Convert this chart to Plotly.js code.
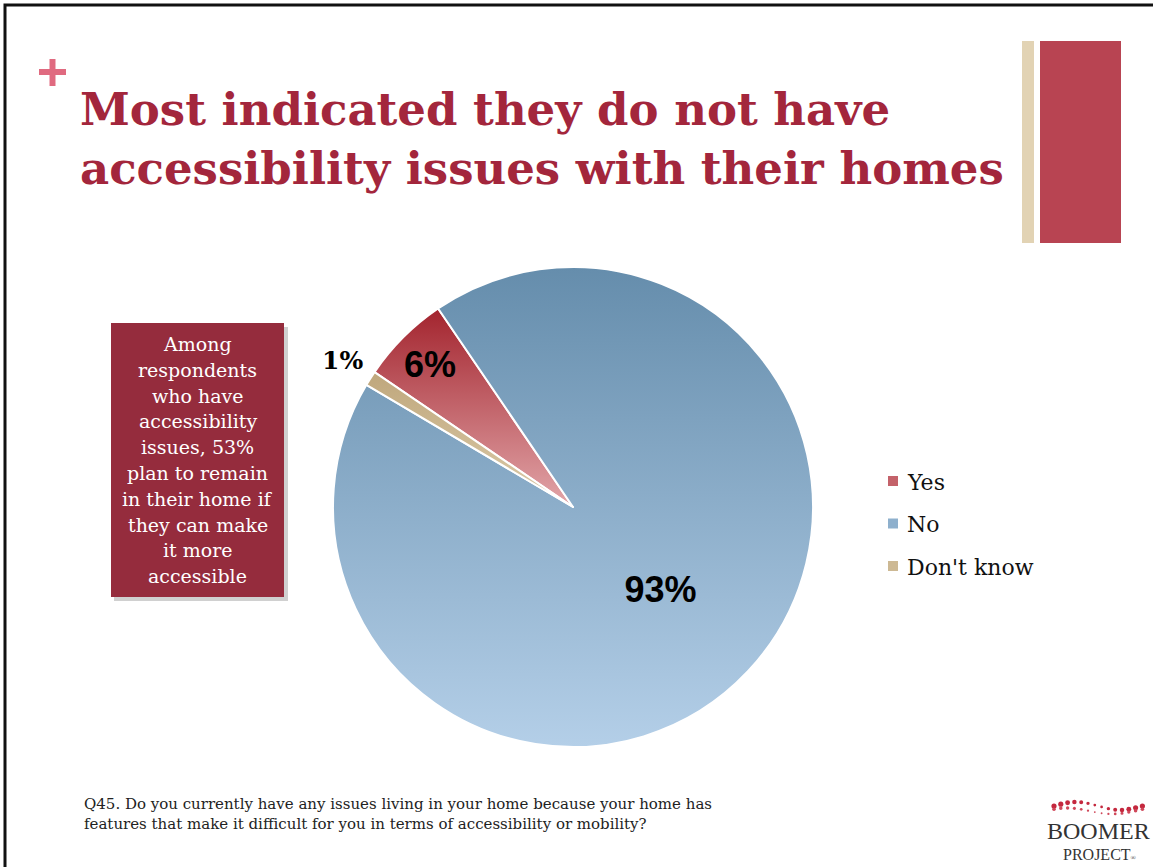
<!DOCTYPE html>
<html>
<head>
<meta charset="utf-8">
<script src="https://cdn.plot.ly/plotly-3.0.1.min.js"></script>
<style>
  html, body { margin: 0; padding: 0; background: #ffffff; }
  #chart { width: 1153px; height: 867px; }
</style>
</head>
<body>
<div id="chart"></div>
<script>
// ---- data ----
const categories = ['Yes', 'No', "Don't know"];
const shares = [6, 93, 1];
const titleLines = ['Most indicated they do not have', 'accessibility issues with their homes'];
const noteLines = ['Among', 'respondents', 'who have', 'accessibility', 'issues, 53%', 'plan to remain', 'in their home if', 'they can make', 'it more', 'accessible'];
const footnote = 'Q45. Do you currently have any issues living in your home because your home has<br>features that make it difficult for you in terms of accessibility or mobility?';

// ---- styles ----
const sliceColors = ['#C4626A', '#8EB0CD', '#CDB994'];
const gradStops = [['#A3242E', '#E2A6A9'], ['#658DAC', '#B4CFE8'], ['#BFA77C', '#DCCBAA']];
const W = 1153, H = 867;
const px = x => x / W;
const py = y => 1 - y / H;
const serif = 'DejaVu Serif';
const rotation = -55.8;
const pieCx = 573, pieCy = 507, pieR = 240;

// slices labelled inside by the library; the smallest slice gets an outside label
const insideLabel = shares.map(v => v >= 5);

const data = [{
  type: 'pie',
  labels: categories,
  values: shares,
  sort: false,
  direction: 'clockwise',
  rotation: rotation,
  marker: { colors: sliceColors, line: { color: '#ffffff', width: 2 } },
  texttemplate: insideLabel.map(f => f ? '%{value}%' : ''),
  textposition: 'inside',
  insidetextorientation: 'horizontal',
  insidetextfont: { family: 'Liberation Sans, Arial, sans-serif', size: 36, weight: 'bold', color: '#000000' },
  hoverinfo: 'none',
  showlegend: false,
  domain: { x: [px(pieCx - pieR), px(pieCx + pieR)], y: [py(pieCy + pieR), py(pieCy - pieR)] }
}];

const shapes = [];
const annotations = [];

// outside label(s) for the small slices, placed at the slice's mid angle
const total = shares.reduce((a, b) => a + b, 0);
let cum = 0;
shares.forEach((v, i) => {
  const mid = rotation + (cum + v / 2) / total * 360;
  cum += v;
  if (insideLabel[i]) return;
  const a = mid * Math.PI / 180;
  const rr = pieR + 33;
  annotations.push({ xref: 'paper', yref: 'paper', x: px(pieCx + rr * Math.sin(a)), y: py(pieCy - rr * Math.cos(a)),
    xanchor: 'center', yanchor: 'middle', text: v + '%', showarrow: false,
    font: { family: serif, size: 25, weight: 'bold', color: '#000000' } });
});

// slide frame (top + left visible)
shapes.push({ type: 'rect', xref: 'paper', yref: 'paper', x0: px(5), x1: 1.02, y0: -0.02, y1: py(5), line: { color: '#111111', width: 3 }, fillcolor: 'rgba(0,0,0,0)' });
// decorative bars
shapes.push({ type: 'rect', xref: 'paper', yref: 'paper', x0: px(1022), x1: px(1034), y0: py(243), y1: py(41), line: { width: 0 }, fillcolor: '#E2D3B4' });
shapes.push({ type: 'rect', xref: 'paper', yref: 'paper', x0: px(1040), x1: px(1121), y0: py(243), y1: py(41), line: { width: 0 }, fillcolor: '#B84452' });
// plus sign
shapes.push({ type: 'rect', xref: 'paper', yref: 'paper', x0: px(39), x1: px(66), y0: py(75), y1: py(69), line: { width: 0 }, fillcolor: '#E06A80' });
shapes.push({ type: 'rect', xref: 'paper', yref: 'paper', x0: px(49.5), x1: px(55.5), y0: py(86), y1: py(59), line: { width: 0 }, fillcolor: '#E06A80' });
// note box with shadow
shapes.push({ type: 'rect', xref: 'paper', yref: 'paper', x0: px(114), x1: px(288), y0: py(601), y1: py(327), line: { width: 0 }, fillcolor: 'rgba(120,120,120,0.35)' });
shapes.push({ type: 'rect', xref: 'paper', yref: 'paper', x0: px(111), x1: px(284), y0: py(597), y1: py(323), line: { width: 0 }, fillcolor: '#952C3D' });

noteLines.forEach((t, i) => {
  annotations.push({ xref: 'paper', yref: 'paper', x: px(197.5), y: py(344 + i * 25.8), xanchor: 'center', yanchor: 'middle',
    text: t, showarrow: false, font: { family: serif, size: 19, color: '#ffffff' } });
});

// legend (built from categories)
categories.forEach((c, i) => {
  const yc = 481 + i * 42.5;
  shapes.push({ type: 'rect', xref: 'paper', yref: 'paper', x0: px(888), x1: px(898), y0: py(yc + 5), y1: py(yc - 5), line: { width: 0 }, fillcolor: sliceColors[i] });
  annotations.push({ xref: 'paper', yref: 'paper', x: px(905), y: py(yc + 1), xanchor: 'left', yanchor: 'middle',
    text: c, showarrow: false, font: { family: serif, size: 22, color: '#111111' } });
});

// footnote
annotations.push({ xref: 'paper', yref: 'paper', x: px(82), y: py(814), xanchor: 'left', yanchor: 'middle', align: 'left',
  text: footnote, showarrow: false, font: { family: serif, size: 15, stretch: 'condensed', color: '#222222' } });

// logo: two wavy rows of small dots (decoration)
for (let i = 0; i < 14; i++) {
  const x = 1054 + i * 6.8;
  const t = i / 13;
  const y1 = 806 - 4 * Math.sin(t * Math.PI * 2);
  const y2 = 811 - 3 * Math.sin(t * Math.PI * 2 + 0.6);
  const r1 = 1.2 + 1.4 * Math.abs(Math.cos(t * Math.PI));
  const r2 = 0.8 + 1.0 * Math.abs(Math.cos(t * Math.PI));
  shapes.push({ type: 'circle', xref: 'paper', yref: 'paper', x0: px(x - r1), x1: px(x + r1), y0: py(y1 + r1), y1: py(y1 - r1), line: { width: 0 }, fillcolor: '#C4283E' });
  shapes.push({ type: 'circle', xref: 'paper', yref: 'paper', x0: px(x - r2), x1: px(x + r2), y0: py(y2 + r2), y1: py(y2 - r2), line: { width: 0 }, fillcolor: '#D0485A' });
}
annotations.push({ xref: 'paper', yref: 'paper', x: px(1098), y: py(831), xanchor: 'center', yanchor: 'middle',
  text: 'BOOMER', showarrow: false, font: { family: 'Liberation Serif', size: 24, color: '#333333' } });
annotations.push({ xref: 'paper', yref: 'paper', x: px(1100), y: py(854), xanchor: 'center', yanchor: 'middle',
  text: 'PROJECT<span style="font-size:7px">®</span>', showarrow: false, font: { family: 'Liberation Serif', size: 16, color: '#333333' } });

const layout = {
  width: W, height: H,
  margin: { l: 0, r: 0, t: 0, b: 0 },
  paper_bgcolor: '#ffffff',
  plot_bgcolor: '#ffffff',
  showlegend: false,
  uniformtext: { mode: 'show', minsize: 36 },
  title: {
    text: titleLines.join('<br>'),
    x: px(80), xanchor: 'left', xref: 'paper',
    y: py(125), yanchor: 'top', yref: 'paper',
    font: { family: serif, size: 45, weight: 'bold', color: '#A3263C' }
  },
  shapes: shapes,
  annotations: annotations
};

const gd = document.getElementById('chart');
Plotly.newPlot(gd, data, layout, { displayModeBar: false, staticPlot: true }).then(() => {
  const svg = gd.querySelector('.main-svg');
  let defs = svg.querySelector('defs');
  const NS = 'http://www.w3.org/2000/svg';
  gradStops.forEach((s, i) => {
    const g = document.createElementNS(NS, 'linearGradient');
    g.setAttribute('id', 'sliceGrad' + i);
    g.setAttribute('x1', '0'); g.setAttribute('y1', '0'); g.setAttribute('x2', '0'); g.setAttribute('y2', '1');
    [[0, s[0]], [1, s[1]]].forEach(([o, c]) => {
      const st = document.createElementNS(NS, 'stop');
      st.setAttribute('offset', o); st.setAttribute('stop-color', c);
      g.appendChild(st);
    });
    defs.appendChild(g);
  });
  gd.querySelectorAll('g.slice path.surface').forEach((p, i) => {
    p.style.fill = 'url(#sliceGrad' + i + ')';
  });
});
</script>
</body>
</html>
